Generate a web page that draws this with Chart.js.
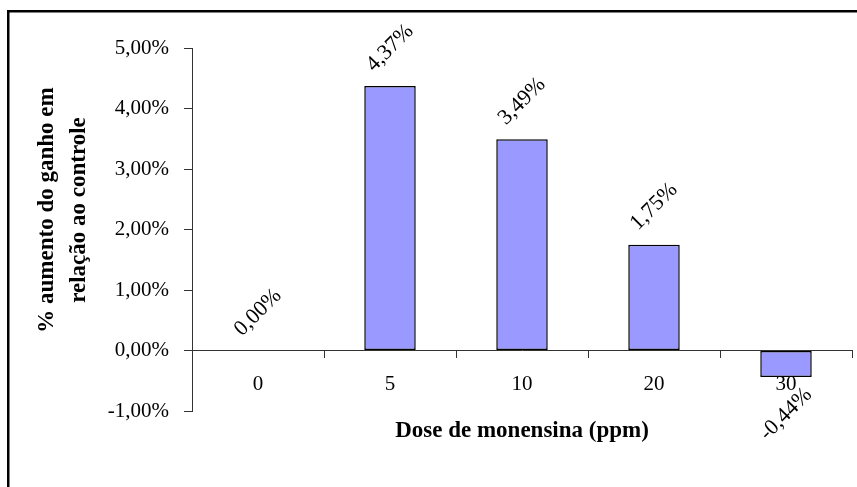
<!DOCTYPE html>
<html>
<head>
<meta charset="utf-8">
<script src="https://cdn.jsdelivr.net/npm/chart.js@4.4.0/dist/chart.umd.min.js"></script>
<style>
  body { margin: 0; background: #fff; }
  canvas { display: block; }
</style>
</head>
<body>
<canvas id="grafico" width="857" height="487"></canvas>
<script>
// dados
const doses = ['0', '5', '10', '20', '30'];
const aumento = [0.00, 4.37, 3.49, 1.75, -0.44];
const tituloY = ['% aumento do ganho em', 'relação ao controle'];
const tituloX = 'Dose de monensina (ppm)';

const fonteSerif = '"Liberation Serif", "Times New Roman", serif';

function formatoPct(v) {
    return v.toFixed(2).replace('.', ',') + '%';
}

// moldura + fundo branco
const moldura = {
    id: 'moldura',
    beforeDraw(chart) {
        const ctx = chart.ctx;
        ctx.save();
        ctx.fillStyle = '#fff';
        ctx.fillRect(0, 0, chart.width, chart.height);
        ctx.strokeStyle = '#000';
        ctx.lineWidth = 2.5;
        ctx.strokeRect(8.25, 11.25, chart.width + 20, chart.height + 20);
        ctx.restore();
    },
    afterDraw(chart) {
        // título do eixo Y em duas linhas
        const ctx = chart.ctx;
        ctx.save();
        ctx.translate(47, 210);
        ctx.rotate(-Math.PI / 2);
        ctx.font = 'bold 23px ' + fonteSerif;
        ctx.fillStyle = '#000';
        ctx.textAlign = 'center';
        ctx.textBaseline = 'middle';
        ctx.fillText(tituloY[0], 0, 0);
        ctx.fillText(tituloY[1], 0, 32);
        ctx.restore();
    }
};

// rótulos inclinados sobre as barras
const rotulos = {
    id: 'rotulos',
    afterDatasetsDraw(chart) {
        const ctx = chart.ctx;
        const meta = chart.getDatasetMeta(0);
        ctx.save();
        ctx.font = '22px ' + fonteSerif;
        ctx.fillStyle = '#000';
        ctx.textAlign = 'center';
        ctx.textBaseline = 'middle';
        meta.data.forEach((barra, i) => {
            const v = aumento[i];
            const dy = v < 0 ? 37 : -38;
            ctx.save();
            ctx.translate(barra.x, barra.y + dy);
            ctx.rotate(-Math.PI / 4);
            ctx.fillText(formatoPct(v), 0, 0);
            ctx.restore();
        });
        ctx.restore();
    }
};

const config = {
    type: 'bar',
    data: {
        labels: doses,
        datasets: [{
            data: aumento,
            backgroundColor: '#9999FF',
            borderColor: '#000',
            borderWidth: (c) => (aumento[c.dataIndex] === 0 ? 0 : 1.5),
            borderSkipped: false,
            barPercentage: 0.39,
            categoryPercentage: 1
        }]
    },
    options: {
        responsive: false,
        animation: false,
        layout: { padding: { top: 48, left: 0, right: 5, bottom: 76 } },
        plugins: {
            legend: { display: false },
            tooltip: { enabled: false }
        },
        scales: {
            x: {
                type: 'category',
                position: { y: 0 },
                offset: true,
                grid: { offset: true, drawOnChartArea: false, tickLength: 7, color: '#333' },
                border: { color: '#333', width: 1 },
                ticks: {
                    color: '#000',
                    font: { family: fonteSerif, size: 21 },
                    padding: 14,
                    maxRotation: 0
                },
                title: {
                    display: true,
                    text: tituloX,
                    color: '#000',
                    font: { family: fonteSerif, size: 23, weight: 'bold' },
                    padding: { top: 7, bottom: 0 }
                }
            },
            y: {
                min: -1,
                max: 5,
                ticks: {
                    stepSize: 1,
                    color: '#000',
                    font: { family: fonteSerif, size: 21 },
                    padding: 15,
                    callback: (v) => formatoPct(v)
                },
                grid: { drawOnChartArea: false, tickLength: 8, color: '#333' },
                border: { color: '#333', width: 1 },
                afterFit: (escala) => { escala.width = 192; }
            }
        }
    },
    plugins: [moldura, rotulos]
};

new Chart(document.getElementById('grafico'), config);
</script>
</body>
</html>
